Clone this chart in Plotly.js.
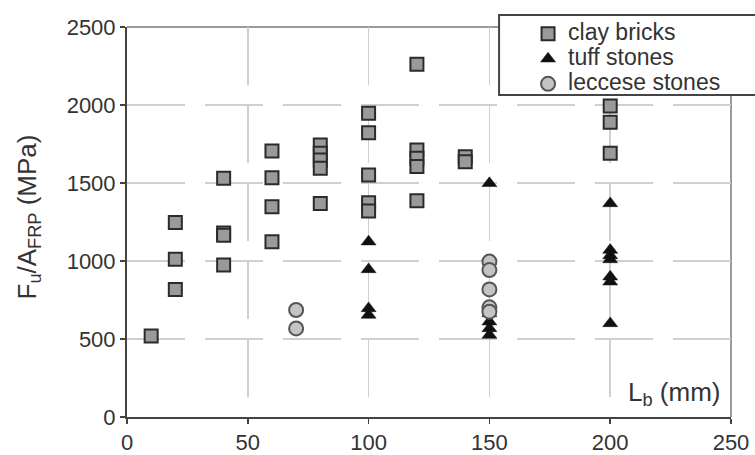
<!DOCTYPE html>
<html>
<head>
<meta charset="utf-8">
<script src="https://cdn.plot.ly/plotly-3.0.1.min.js"></script>
<style>
html,body{margin:0;padding:0;background:#fff;}
#chart{width:755px;height:455px;}
</style>
</head>
<body>
<div id="chart"></div>
<script>
// Data
const clayX = [10, 20, 20, 20, 40, 40, 40, 40, 60, 60, 60, 60, 80, 80, 80, 80, 80, 100, 100, 100, 100, 100, 120, 120, 120, 120, 120, 140, 140, 200, 200, 200];
const clayY = [519, 1246, 1011, 818, 1530, 1180, 1165, 974, 1705, 1534, 1348, 1124, 1744, 1690, 1647, 1594, 1369, 1947, 1822, 1551, 1374, 1320, 2261, 1711, 1658, 1605, 1387, 1669, 1637, 1994, 1889, 1690];

const tuffX = [100, 100, 100, 100, 150, 150, 150, 150, 150, 200, 200, 200, 200, 200, 200, 200];
const tuffY = [1124, 946, 696, 654, 1498, 664, 611, 568, 526, 1369, 1070, 1035, 1010, 899, 867, 600];

const lecceseX = [70, 70, 150, 150, 150, 150, 150];
const lecceseY = [686, 568, 996, 942, 818, 703, 675];

const seriesNames = ["clay bricks", "tuff stones", "leccese stones"];
const xTicks = [0, 50, 100, 150, 200, 250];
const yTicks = [0, 500, 1000, 1500, 2000, 2500];

const FONT = "Liberation Sans, Arial, Helvetica, sans-serif";
const TXT = "#333333";
const legendName = n => "<span style='font-size:23px'>" + n + "</span>";

const traces = [
  {x: clayX, y: clayY, name: legendName(seriesNames[0]), type: "scatter", mode: "markers",
   marker: {symbol: "square", size: 13, color: "#9a9a9a", line: {color: "#2b2b2b", width: 2}}},
  {x: tuffX, y: tuffY, name: legendName(seriesNames[1]), type: "scatter", mode: "markers",
   marker: {symbol: "triangle-up", size: 13, color: "#111111", line: {color: "#111111", width: 0.5}}},
  {x: lecceseX, y: lecceseY, name: legendName(seriesNames[2]), type: "scatter", mode: "markers",
   marker: {symbol: "circle", size: 14, color: "#c4c4c4", line: {color: "#555555", width: 2}}}
];

const layout = {
  width: 755, height: 455,
  margin: {l: 127, r: 24, t: 27, b: 38},
  paper_bgcolor: "#ffffff", plot_bgcolor: "#ffffff",
  font: {family: FONT, color: TXT, size: 22},
  showlegend: true,
  legend: {x: 0.664, xanchor: "left", y: 1.028, yanchor: "top",
           bgcolor: "rgba(0,0,0,0)", borderwidth: 0, tracegroupgap: 0,
           font: {family: FONT, size: 17, color: TXT}},
  xaxis: {range: [0, 250], tickvals: xTicks, ticktext: xTicks.map(String),
          showline: true, linecolor: "#444444", linewidth: 2,
          ticks: "outside", ticklen: 5, tickwidth: 1.5, tickcolor: "#444444",
          showgrid: true, gridcolor: "#cfcfcf", gridwidth: 1.5, griddash: "58px,20px",
          zeroline: false, tickfont: {size: 22, color: TXT}, fixedrange: true},
  yaxis: {range: [0, 2500], tickvals: yTicks, ticktext: yTicks.map(String),
          showline: true, linecolor: "#444444", linewidth: 2,
          ticks: "outside", ticklen: 5, tickwidth: 1.5, tickcolor: "#444444",
          showgrid: true, gridcolor: "#cfcfcf", gridwidth: 1.5, griddash: "58px,20px",
          zeroline: false, tickfont: {size: 22, color: TXT}, fixedrange: true},
  shapes: [
    {type: "line", xref: "paper", yref: "paper", x0: 0, x1: 1, y0: 1, y1: 1,
     line: {color: "#9a9a9a", width: 2}, layer: "below"},
    {type: "line", xref: "paper", yref: "paper", x0: 1, x1: 1, y0: 0, y1: 1,
     line: {color: "#9a9a9a", width: 2}, layer: "below"},
    {type: "rect", xref: "paper", yref: "paper", x0: 0.616, x1: 1.2, y0: 0.8256, y1: 1.0308,
     line: {color: "#444444", width: 2}, fillcolor: "#ffffff", layer: "above"}
  ],
  annotations: [
    {text: "F<sub>u</sub>/A<sub>FRP</sub> (MPa)", xref: "paper", yref: "paper",
     x: -0.163, y: 0.513, xanchor: "center", yanchor: "middle", textangle: -90,
     showarrow: false, font: {family: FONT, size: 26, color: TXT}},
    {text: "L<sub>b</sub> (mm)", xref: "paper", yref: "paper",
     x: 0.985, y: 0.0615, xanchor: "right", yanchor: "middle",
     showarrow: false, font: {family: FONT, size: 26, color: TXT}}
  ]
};

Plotly.newPlot("chart", traces, layout, {displayModeBar: false, staticPlot: true});
</script>
</body>
</html>
